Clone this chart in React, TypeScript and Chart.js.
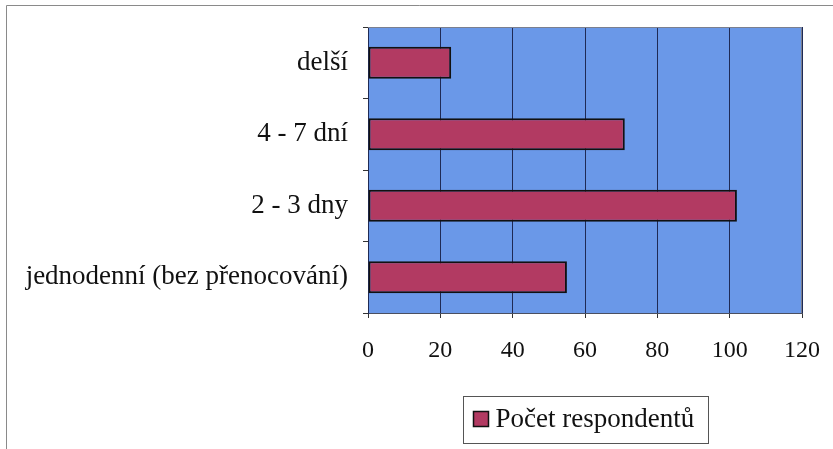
import React, { useEffect, useRef } from "react";
import { Chart, registerables } from "chart.js";

Chart.register(...registerables);

const categories = ["delší", "4 - 7 dní", "2 - 3 dny", "jednodenní (bez přenocování)"];
const values = [23, 71, 102, 55];
const seriesLabel = "Počet respondentů";
const xTicks = [0, 20, 40, 60, 80, 100, 120];

const FONT = "'Liberation Serif', 'Times New Roman', serif";
const BAR_FILL = "#B23A62";
const PLOT_BG = "#6A98E8";

const framePlugin = {
  id: "frame",
  beforeDraw(chart: any) {
    const { ctx, chartArea } = chart;
    ctx.save();
    ctx.fillStyle = "#ffffff";
    ctx.fillRect(0, 0, chart.width, chart.height);
    // outer frame
    ctx.strokeStyle = "#8a8a8a";
    ctx.lineWidth = 1;
    ctx.beginPath();
    ctx.moveTo(6.5, chart.height);
    ctx.lineTo(6.5, 5.5);
    ctx.lineTo(chart.width, 5.5);
    ctx.stroke();
    // plot background
    ctx.fillStyle = PLOT_BG;
    ctx.fillRect(chartArea.left, chartArea.top, chartArea.right - chartArea.left, chartArea.bottom - chartArea.top);
    ctx.restore();
  },
  afterDraw(chart: any) {
    const { ctx, chartArea } = chart;
    ctx.save();
    // plot border top/right
    ctx.strokeStyle = "#7a7f8f";
    ctx.lineWidth = 1;
    ctx.beginPath();
    ctx.moveTo(chartArea.left, chartArea.top + 0.5);
    ctx.lineTo(chartArea.right - 0.5, chartArea.top + 0.5);
    ctx.lineTo(chartArea.right - 0.5, chartArea.bottom);
    ctx.stroke();
    // legend
    const ds = chart.data.datasets[0];
    ctx.font = `27px ${FONT}`;
    const boxW = 245;
    const boxH = 47;
    const cx = (chartArea.left + chartArea.right) / 2;
    const bx = Math.round(cx - boxW / 2) + 0.5;
    const by = 396.5;
    ctx.strokeStyle = "#555555";
    ctx.strokeRect(bx, by, boxW, boxH);
    const mx = bx + 10;
    const my = by + 15;
    ctx.fillStyle = ds.backgroundColor;
    ctx.fillRect(mx, my, 15, 15);
    ctx.strokeStyle = "#111111";
    ctx.lineWidth = 1.5;
    ctx.strokeRect(mx, my, 15, 15);
    ctx.fillStyle = "#111111";
    ctx.textBaseline = "alphabetic";
    ctx.textAlign = "left";
    ctx.fillText(ds.label, mx + 22, by + 30);
    ctx.restore();
  },
};

export default function App() {
  const ref = useRef<HTMLCanvasElement | null>(null);

  useEffect(() => {
    document.body.style.margin = "0";
    if (!ref.current) return;
    const chart = new Chart(ref.current, {
      type: "bar",
      data: {
        labels: categories,
        datasets: [
          {
            label: seriesLabel,
            data: values,
            backgroundColor: BAR_FILL,
            borderColor: "#111111",
            borderWidth: 2,
            borderSkipped: false,
            barPercentage: 0.45,
            categoryPercentage: 1,
          },
        ],
      },
      options: {
        indexAxis: "y",
        animation: false,
        responsive: false,
        maintainAspectRatio: false,
        layout: { padding: { left: 0, top: 27, right: 31, bottom: 0 } },
        plugins: {
          legend: { display: false },
          tooltip: { enabled: false },
        },
        scales: {
          x: {
            min: 0,
            max: 120,
            afterBuildTicks(scale: any) {
              scale.ticks = xTicks.map((v) => ({ value: v }));
            },
            afterFit(scale: any) {
              scale.height = 136;
              scale.paddingLeft = 0;
              scale.paddingRight = 0;
            },
            grid: {
              color: "#1f2a55",
              lineWidth: 1,
              drawTicks: true,
              tickLength: 5,
              tickColor: "#333333",
            },
            border: { display: true, color: "#4a4f60", width: 1 },
            ticks: {
              color: "#111111",
              font: { family: FONT, size: 24 },
              padding: 18,
              maxRotation: 0,
            },
          },
          y: {
            afterFit(scale: any) {
              scale.width = 368;
              scale.paddingTop = 0;
              scale.paddingBottom = 0;
            },
            grid: {
              display: true,
              drawOnChartArea: false,
              drawTicks: true,
              tickLength: 5,
              offset: true,
              tickColor: "#333333",
            },
            border: { display: true, color: "#1f2a55", width: 1 },
            ticks: {
              color: "#111111",
              font: { family: FONT, size: 27 },
              padding: 15,
              crossAlign: "near",
            },
          },
        },
      },
      plugins: [framePlugin],
    });
    return () => chart.destroy();
  }, []);

  return (
    <div style={{ position: "absolute", left: 0, top: 0, width: 833, height: 449 }}>
      <canvas ref={ref} width={833} height={449} style={{ display: "block", width: 833, height: 449 }} />
    </div>
  );
}
